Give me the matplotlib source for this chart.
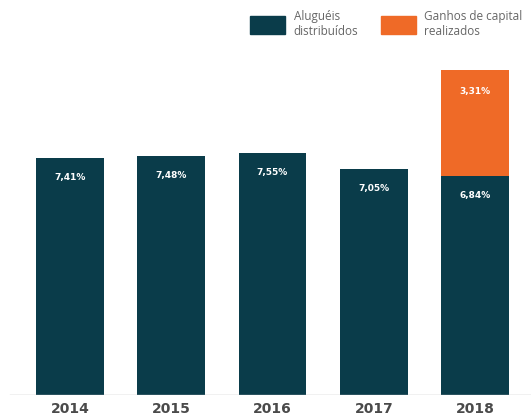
import matplotlib.pyplot as plt
from matplotlib.patches import Patch

# dados
anos = ['2014', '2015', '2016', '2017', '2018']
alugueis = [7.41, 7.48, 7.55, 7.05, 6.84]
ganhos = [0, 0, 0, 0, 3.31]
rot_alugueis = ['7,41%', '7,48%', '7,55%', '7,05%', '6,84%']
rot_ganhos = ['', '', '', '', '3,31%']

azul = '#0A3C4A'
laranja = '#EF6A27'
cinza = '#4a4a4a'

plt.rcParams['font.family'] = ['Open Sans', 'DejaVu Sans']

fig = plt.figure(figsize=(5.31, 4.18), dpi=100)
ax = fig.add_axes([0, 23 / 418, 1, 395 / 418])

x = list(range(len(anos)))
b1 = ax.bar(x, alugueis, width=0.67, color=azul)
b2 = ax.bar(x, ganhos, width=0.67, bottom=alugueis, color=laranja)

for i in x:
    ax.annotate(rot_alugueis[i], (x[i], alugueis[i]), xytext=(0, -14),
                textcoords='offset points', ha='center', va='center',
                color='white', fontsize=6.5, fontweight='bold', family='DejaVu Sans')
    if ganhos[i] > 0:
        ax.annotate(rot_ganhos[i], (x[i], alugueis[i] + ganhos[i]), xytext=(0, -15),
                    textcoords='offset points', ha='center', va='center',
                    color='white', fontsize=6.5, fontweight='bold', family='DejaVu Sans')

ax.set_xlim(-70 / 101.4, 4 + 56 / 101.4)
ax.set_ylim(0, 395 / 32)
ax.axhline(0, xmin=10 / 531, xmax=1, color='#bbbbbb', lw=1)

for s in ax.spines.values():
    s.set_visible(False)
ax.set_yticks([])
ax.set_xticks(x)
ax.set_xticklabels(anos, fontsize=10, fontweight='bold', color=cinza,
                   family='DejaVu Sans')
ax.tick_params(axis='x', length=0, pad=5)

handles = [Patch(color=azul), Patch(color=laranja)]
fig.legend(handles, ['Aluguéis\ndistribuídos', 'Ganhos de capital\nrealizados'],
           loc='upper left', bbox_to_anchor=(250 / 531, 1 - 10 / 418), ncol=2,
           frameon=False, fontsize=8.5, labelcolor='#666666',
           handlelength=3.0, handleheight=1.95, handletextpad=0.7,
           columnspacing=1.9, borderpad=0, borderaxespad=0, labelspacing=0)

fig.savefig('out.png', dpi=100)
